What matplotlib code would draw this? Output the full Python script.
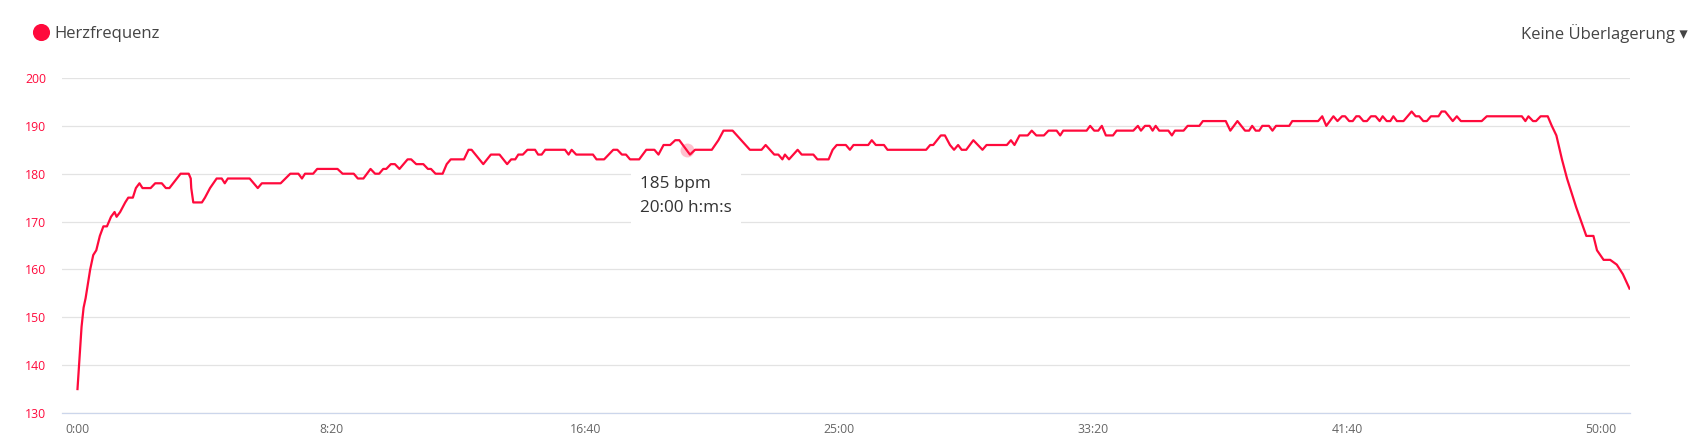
import numpy as np
import matplotlib
matplotlib.use("Agg")
import matplotlib.pyplot as plt
from matplotlib.lines import Line2D
from matplotlib.ticker import FuncFormatter, MultipleLocator

# heart rate trace (seconds, bpm)
time_s = [
    0, 8, 12, 16, 25, 31, 37, 44, 51, 58, 66, 73, 77, 84, 94, 100, 109, 115, 122, 128,
    144, 153, 166, 174, 181, 203, 219, 223, 224, 228, 245, 251, 261, 274, 284, 290, 296,
    339, 355, 363, 400, 419, 435, 442, 448, 464, 472, 512, 522, 544, 552, 563, 577, 586,
    594, 602, 608, 617, 625, 634, 650, 657, 667, 681, 690, 696, 705, 719, 727, 735,
    761, 770, 776, 799, 814, 831, 846, 854, 862, 868, 877, 886, 901, 907, 914, 921, 960,
    967, 973, 982, 1015, 1022, 1037, 1055, 1063, 1072, 1080, 1088, 1106, 1120, 1136,
    1144, 1154, 1167, 1177, 1185, 1206, 1216, 1249, 1262, 1272, 1290, 1324, 1347, 1355,
    1372, 1380, 1388, 1393, 1401, 1418, 1426, 1449, 1457, 1479, 1487, 1495, 1513, 1521,
    1528, 1557, 1564, 1572, 1588, 1595, 1671, 1679, 1685, 1700, 1708, 1718, 1726, 1734,
    1741, 1750, 1764, 1782, 1790, 1830, 1838, 1845, 1855, 1871, 1879, 1888, 1903, 1912,
    1928, 1935, 1941, 1987, 1994, 2002, 2010, 2017, 2025, 2039, 2046, 2079, 2088, 2094,
    2102, 2111, 2117, 2123, 2130, 2148, 2155, 2161, 2178, 2186, 2209, 2216, 2261, 2270,
    2284, 2299, 2307, 2313, 2320, 2327, 2333, 2346, 2353, 2360, 2386, 2392, 2443, 2451,
    2459, 2473, 2481, 2490, 2496, 2504, 2511, 2518, 2524, 2532, 2539, 2547, 2556, 2564,
    2570, 2578, 2585, 2591, 2598, 2611, 2627, 2635, 2642, 2650, 2657, 2665, 2680, 2686,
    2693, 2708, 2716, 2724, 2765, 2775, 2844, 2851, 2857, 2866, 2872, 2881, 2895, 2903,
    2912, 2923, 2933, 2942, 2951, 2971, 2985, 2992, 3005, 3018, 3031, 3043, 3056,
]
bpm = [
    135, 148, 152, 154, 160, 163, 164, 167, 169, 169, 171, 172, 171, 172, 174, 175, 175, 177, 178, 177,
    177, 178, 178, 177, 177, 180, 180, 179, 177, 174, 174, 175, 177, 179, 179, 178, 179,
    179, 177, 178, 178, 180, 180, 179, 180, 180, 181, 181, 180, 180, 179, 179, 181, 180,
    180, 181, 181, 182, 182, 181, 183, 183, 182, 182, 181, 181, 180, 180, 182, 183,
    183, 185, 185, 182, 184, 184, 182, 183, 183, 184, 184, 185, 185, 184, 184, 185, 185,
    184, 185, 184, 184, 183, 183, 185, 185, 184, 184, 183, 183, 185, 185,
    184, 186, 186, 187, 187, 184, 185, 185, 187, 189, 189, 185, 185, 186,
    184, 184, 183, 184, 183, 185, 184, 184, 183, 183, 185, 186, 186, 185,
    186, 186, 187, 186, 186, 185, 185, 186, 186, 188, 188, 186, 185, 186,
    185, 185, 187, 185, 186, 186, 187, 186, 188, 188, 189, 188, 188, 189,
    189, 188, 189, 189, 190, 189, 189, 190, 188, 188, 189, 189, 190, 189,
    190, 190, 189, 190, 189, 189, 188, 189, 189, 190, 190, 191, 191, 189,
    191, 189, 189, 190, 189, 189, 190, 190, 189, 190, 190, 191, 191, 192,
    190, 192, 191, 192, 192, 191, 191, 192, 192, 191, 191, 192, 192, 191,
    192, 191, 191, 192, 191, 191, 193, 192, 192, 191, 191, 192, 192, 193,
    193, 191, 192, 191, 191, 192, 192, 191, 192, 191, 191, 192, 192, 190,
    188, 183, 179, 176, 173, 167, 167, 164, 162, 162, 161, 159, 156,
]

y_ticks = [130, 140, 150, 160, 170, 180, 190, 200]
tip_time, tip_bpm = 1200, 185

RED = "#ff0a3c"
plt.rcParams["font.family"] = ["Open Sans", "DejaVu Sans"]

fig = plt.figure(figsize=(16.96, 4.48), dpi=100)
ax = fig.add_axes([62 / 1696, 35 / 448, 1568 / 1696, 335 / 448])

ax.plot(time_s, bpm, color=RED, lw=1.6, solid_joinstyle="round", zorder=3)

ax.set_xlim(-30.5, 3057)
ax.set_ylim(130, 200)
ax.set_yticks(y_ticks)
ax.xaxis.set_major_locator(MultipleLocator(500))
ax.xaxis.set_major_formatter(FuncFormatter(lambda v, _: f"{int(v) // 60}:{int(v) % 60:02d}"))
ax.grid(True, axis="y", color="#e3e3e3", lw=0.9)
ax.set_axisbelow(True)
for side in ("top", "right", "left"):
    ax.spines[side].set_visible(False)
ax.spines["bottom"].set_color("#ccd6eb")
ax.spines["bottom"].set_linewidth(0.9)
ax.tick_params(axis="y", length=0, pad=11.5, labelsize=8.8, labelcolor=RED)
ax.tick_params(axis="x", length=0, pad=7, labelsize=8.8, labelcolor="#666666")

# hover marker + tooltip
ax.plot([tip_time], [tip_bpm], "o", ms=10, color=RED, alpha=0.25, mec="none", zorder=4)
ax.annotate("185 bpm\n20:00 h:m:s", xy=(tip_time, tip_bpm), xytext=(-47, -26),
            textcoords="offset pixels", ha="left", va="top", fontsize=12.3,
            color="#333333", linespacing=1.65, zorder=5,
            bbox=dict(boxstyle="square,pad=0.55", fc="white", ec="none"))

# legend and overlay selector
handle = Line2D([], [], marker="o", ls="none", color=RED, ms=11.3)
fig.legend([handle], ["Herzfrequenz"], loc="center left",
           bbox_to_anchor=(33 / 1696, 1 - 34 / 448), frameon=False,
           fontsize=12, handlelength=1.0, handletextpad=0.3, borderpad=0,
           borderaxespad=0, labelcolor="#444444")
fig.text(1688 / 1696, 1 - 34 / 448, "Keine Überlagerung ▾", ha="right", va="center",
         fontsize=12, color="#444444")

fig.savefig("out.png", dpi=100)
